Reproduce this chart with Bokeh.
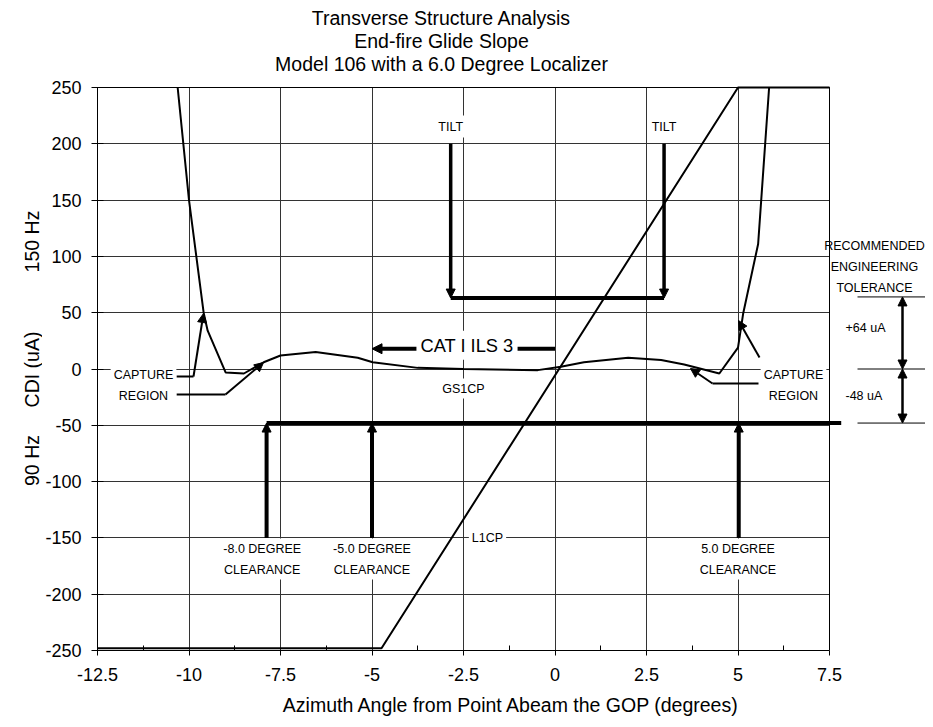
import numpy as np
from bokeh.plotting import figure
from bokeh.layouts import row
from bokeh.models import Range1d, FixedTicker, Label, Arrow, NormalHead
from bokeh.embed import file_html
from bokeh.resources import INLINE

# ---------------- data ----------------
# GS1CP : CDI (uA) versus azimuth angle (degrees)
gs_x = [-10.31, -10.0, -9.6, -9.49, -9.0, -8.5, -7.96, -7.5, -6.54, -5.39, -4.98,
        -3.75, -2.5, -0.47, 0.16, 0.79, 2.0, 2.9, 3.53, 4.49, 5.0, 5.14, 5.55, 5.85]
gs_y = [250, 150, 50, 34, -3, -4, 6, 12, 15, 10, 6,
        1, 0, -1, 2, 6, 10, 8, 4, -4, 19, 49, 111, 250]
# L1CP : localizer CDI
loc_x = [-12.5, -4.74, 5.0, 7.5]
loc_y = [-248, -248, 250, 250]

x_ticks = [-12.5, -10, -7.5, -5, -2.5, 0, 2.5, 5, 7.5]
x_tick_labels = ["-12.5", "-10", "-7.5", "-5", "-2.5", "0", "2.5", "5", "7.5"]
y_ticks = [-250, -200, -150, -100, -50, 0, 50, 100, 150, 200, 250]
y_tick_labels = ["-250", "-200", "-150", "-100", "-50", "0", "50", "100", "150", "200", "250"]

tilt_x = [-2.85, 2.98]          # TILT markers
tilt_top = 200
tilt_level = 63
clear_deg = [-8.0, -5.0, 5.0]    # clearance angles (labels)
clear_arrow_x = [-7.88, -5.0, 5.02]
clear_labels = ["-8.0 DEGREE\nCLEARANCE", "-5.0 DEGREE\nCLEARANCE", "5.0 DEGREE\nCLEARANCE"]
clear_base = -150
clear_bar_end = 7.82
tol_plus = 64                    # recommended engineering tolerance (uA)
tol_minus = -48
cat_span = [0.0, -5.0]           # CAT I ILS 3 arrow
cat_level = 18

X_MIN, X_MAX = -12.5, 7.5
Y_MIN, Y_MAX = -250, 250
FONT = "Liberation Sans"

# page-pixel -> data helpers (for placing texts / pointers only)
PX_L, PX_R, PX_T, PX_B = 97.0, 829.0, 87.0, 650.0
def px_x(px):
    return X_MIN + (px - PX_L) * (X_MAX - X_MIN) / (PX_R - PX_L)
def px_y(py):
    return Y_MAX - (py - PX_T) * (Y_MAX - Y_MIN) / (PX_B - PX_T)

STRIP_W = 42
FRAME_W = 925 - 97          # frame reaches the right margin (annotations live there)
FRAME_H = 650               # frame reaches the top (title lives there)
BOTTOM = 71

x_rng = Range1d(X_MIN, px_x(925))
y_rng = Range1d(Y_MIN, px_y(0))

p = figure(frame_width=FRAME_W, frame_height=FRAME_H, title=None,
           min_border_left=97 - STRIP_W, min_border_right=0, min_border_top=0,
           min_border_bottom=BOTTOM,
           x_range=x_rng, y_range=y_rng,
           output_backend="svg", toolbar_location=None,
           background_fill_color="white", border_fill_color="white")
p.outline_line_color = None

# axes
p.xaxis.ticker = FixedTicker(ticks=x_ticks,
                             minor_ticks=[t + 1.25 for t in x_ticks[:-1]])
p.xaxis.major_label_overrides = {t: s for t, s in zip(x_ticks, x_tick_labels)}
p.yaxis.ticker = FixedTicker(ticks=y_ticks)
p.yaxis.major_label_overrides = {t: s for t, s in zip(y_ticks, y_tick_labels)}
p.xaxis.bounds = (X_MIN, X_MAX)
p.yaxis.bounds = (Y_MIN, Y_MAX)
for ax in (p.xaxis[0], p.yaxis[0]):
    ax.axis_line_color = "black"
    ax.major_tick_line_color = "black"
    ax.major_label_text_font = FONT
    ax.major_label_text_font_size = "18px"
    ax.major_label_text_color = "black"
    ax.axis_label_text_font = FONT
    ax.axis_label_text_font_size = "19.5px"
    ax.axis_label_text_font_style = "normal"
    ax.axis_label_text_color = "black"
p.xaxis.major_tick_in = 0
p.xaxis.major_tick_out = 5
p.xaxis.minor_tick_in = 5
p.xaxis.minor_tick_out = 0
p.xaxis.minor_tick_line_color = "black"
p.xaxis.major_label_standoff = 12
p.xaxis.axis_label = "Azimuth Angle from Point Abeam the GOP (degrees)"
p.xaxis.axis_label_standoff = 10
p.yaxis.major_tick_in = 6
p.yaxis.major_tick_out = 6
p.yaxis.minor_tick_line_color = None
p.yaxis.major_label_standoff = 10

GRID_COLOR = "#333333"
p.xgrid.ticker = FixedTicker(ticks=x_ticks)
p.ygrid.ticker = FixedTicker(ticks=y_ticks)
p.grid.grid_line_color = GRID_COLOR
p.grid.grid_line_width = 1
try:
    p.xgrid.cross_bounds = (Y_MIN, Y_MAX)
    p.ygrid.cross_bounds = (X_MIN, X_MAX)
except Exception:
    p.grid.visible = False
    p.segment(x0=x_ticks, y0=[Y_MIN] * len(x_ticks), x1=x_ticks, y1=[Y_MAX] * len(x_ticks),
              line_color=GRID_COLOR, line_width=1, level="underlay")
    p.segment(x0=[X_MIN] * len(y_ticks), y0=y_ticks, x1=[X_MAX] * len(y_ticks), y1=y_ticks,
              line_color=GRID_COLOR, line_width=1, level="underlay")

# plot box (top and right edges)
p.line([X_MIN, X_MAX, X_MAX], [Y_MAX, Y_MAX, Y_MIN], line_color="black", line_width=1)

# curves
p.line(loc_x, loc_y, line_color="black", line_width=2)
p.line(gs_x, gs_y, line_color="black", line_width=2)

HEAD = dict(fill_color="black", line_color="black")

# TILT bracket
p.line(tilt_x, [tilt_level, tilt_level], line_color="black", line_width=4)
for tx in tilt_x:
    p.add_layout(Arrow(x_start=tx, y_start=tilt_top, x_end=tx, y_end=tilt_level,
                       line_width=3.5, line_color="black", end=NormalHead(size=9, **HEAD)))

# clearance bar and arrows
p.line([clear_arrow_x[0], clear_bar_end], [tol_minus, tol_minus], line_color="black", line_width=4)
for cx in clear_arrow_x:
    p.add_layout(Arrow(x_start=cx, y_start=clear_base, x_end=cx, y_end=tol_minus,
                       line_width=4, line_color="black", end=NormalHead(size=9, **HEAD)))

# CAT I ILS 3 arrow
p.add_layout(Arrow(x_start=cat_span[0], y_start=cat_level, x_end=cat_span[1], y_end=cat_level,
                   line_width=4, line_color="black", end=NormalHead(size=10, **HEAD)))

# capture region pointers (polyline + arrow), page-pixel positions
pointers = [
    [(176, 376), (193, 376), (203, 313)],
    [(176, 394), (225, 394), (263, 362)],
    [(759, 357), (738, 320)],
    [(758, 383), (712, 383), (690, 368)],
]
for pts in pointers:
    xs = [px_x(a) for a, b in pts]
    ys = [px_y(b) for a, b in pts]
    if len(pts) > 2:
        p.line(xs[:-1], ys[:-1], line_color="black", line_width=2)
    p.add_layout(Arrow(x_start=xs[-2], y_start=ys[-2], x_end=xs[-1], y_end=ys[-1],
                       line_width=2, line_color="black", end=NormalHead(size=9, **HEAD)))

# ---------------- labels ----------------
def lab(fig, text, x, y, size="12.5px", align="center", lh=1.2, bg=True, angle=0, pad=2):
    kw = dict(x=x, y=y, text=text, text_font=FONT, text_font_size=size,
              text_align=align, text_baseline="middle", text_color="black",
              text_line_height=lh, angle=angle)
    if bg:
        kw.update(background_fill_color="white", padding=pad)
    fig.add_layout(Label(**kw))

# title
for t, py in zip(["Transverse Structure Analysis", "End-fire Glide Slope",
                  "Model 106 with a 6.0 Degree Localizer"], [17, 40, 63]):
    lab(p, t, px_x(441), px_y(py), size="19.5px", bg=False)

lab(p, "CAT I ILS 3", px_x(466.5), cat_level + 3, size="18.3px", pad=4)
for tx in tilt_x:
    lab(p, "TILT", tx, px_y(126), pad=4)
lab(p, "GS1CP", px_x(463), px_y(388), pad=3)
lab(p, "L1CP", px_x(487), clear_base, pad=3)
for cx, txt in zip(clear_deg, clear_labels):
    lab(p, txt, cx, px_y(558.5), lh=1.5, pad=3)
lab(p, "CAPTURE\nREGION", px_x(143), px_y(385), lh=1.45, pad=3)
lab(p, "CAPTURE\nREGION", px_x(793), px_y(385), lh=1.45, pad=3)

# recommended engineering tolerance (right margin)
lab(p, "RECOMMENDED\nENGINEERING\nTOLERANCE", px_x(874), px_y(266), lh=1.5, bg=False)
for lv in (tol_plus, 0, tol_minus):
    p.add_layout(Arrow(x_start=px_x(857), y_start=lv, x_end=px_x(930), y_end=lv,
                       line_width=1, line_color="black", end=None))
for a, b in ((tol_plus, 0), (0, tol_minus)):
    p.add_layout(Arrow(x_start=px_x(902), y_start=a, x_end=px_x(902), y_end=b,
                       line_width=2.5, line_color="black",
                       start=NormalHead(size=9, **HEAD), end=NormalHead(size=9, **HEAD)))
lab(p, "+64 uA", px_x(845), px_y(327), align="left", bg=False)
lab(p, "-48 uA", px_x(845), px_y(395), align="left", bg=False)

# ---------------- left strip: y-axis titles ----------------
s = figure(frame_width=STRIP_W, frame_height=FRAME_H, title=None,
           min_border_left=0, min_border_right=0, min_border_top=0, min_border_bottom=BOTTOM,
           x_range=Range1d(0, STRIP_W), y_range=y_rng,
           x_axis_location=None, y_axis_location=None,
           output_backend="svg", toolbar_location=None,
           background_fill_color="white", border_fill_color="white")
s.outline_line_color = None
s.grid.visible = False
for t, py in (("150 Hz", 241), ("CDI (uA)", 369), ("90 Hz", 460)):
    lab(s, t, 31, px_y(py), size="19.5px", bg=False, angle=np.pi / 2)

layout = row(s, p)
open("out.html", "w").write(file_html(layout, INLINE))
